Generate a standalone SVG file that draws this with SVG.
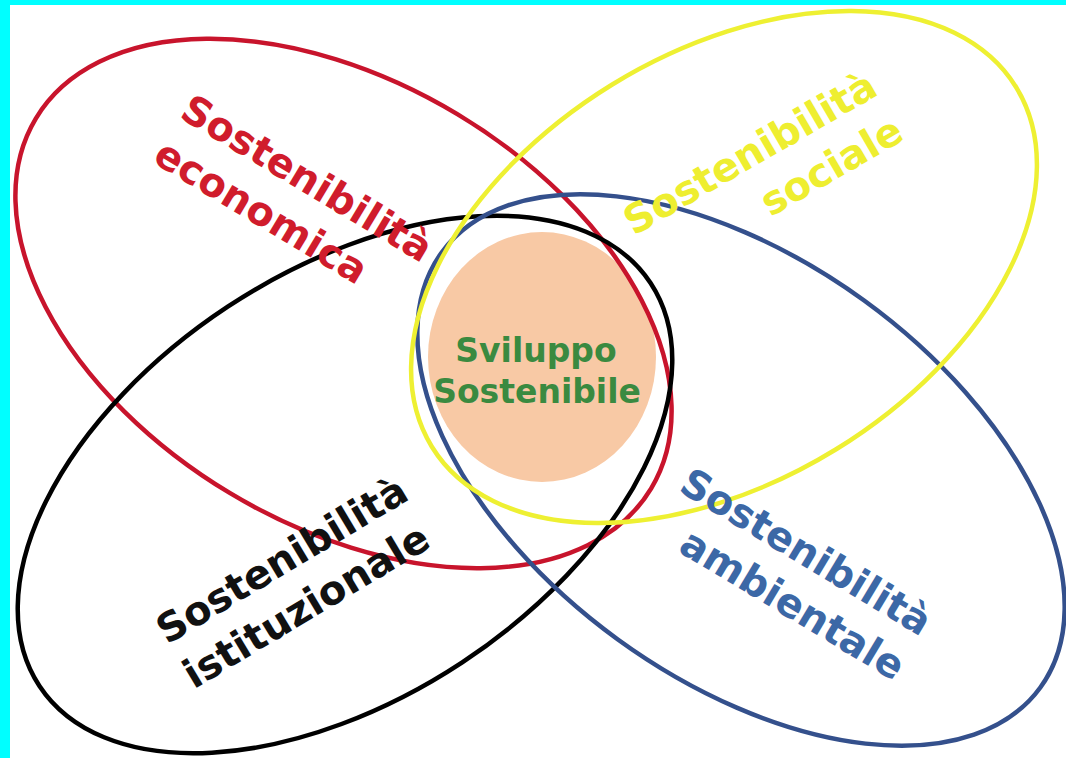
<svg xmlns="http://www.w3.org/2000/svg" width="1066" height="758" viewBox="0 0 1066 758">
  <style>
    .ring { fill: none; stroke-width: 4.5; }
    .lbl { font-family: "DejaVu Sans", "Verdana", sans-serif; font-weight: bold; font-size: 40px; }
    .core { font-family: "DejaVu Sans", "Verdana", sans-serif; font-weight: bold; font-size: 33px; fill: #3a8a40; text-anchor: middle; }
  </style>
  <rect x="0" y="0" width="1066" height="758" fill="#00ffff"/>
  <rect x="10" y="5" width="1056" height="753" fill="#ffffff"/>

  <g id="sviluppo-sostenibile">
    <ellipse cx="542" cy="357" rx="114" ry="125" fill="#f8c9a5"/>
    <text class="core" x="536" y="362">Sviluppo</text>
    <text class="core" x="537" y="403">Sostenibile</text>
  </g>

  <g id="connectors">
    <ellipse id="ring-economica" class="ring" cx="343.5" cy="303.5" rx="359" ry="221" transform="rotate(31 343.5 303.5)" stroke="#c8142c"/>
    <ellipse id="ring-istituzionale" class="ring" cx="345" cy="484.5" rx="366" ry="213" transform="rotate(-33.4 345 484.5)" stroke="#000000"/>
    <ellipse id="ring-ambientale" class="ring" cx="741" cy="470" rx="370" ry="209.5" transform="rotate(36 741 470)" stroke="#34508c" stroke-width="4"/>
    <ellipse id="ring-sociale" class="ring" cx="724" cy="267" rx="343" ry="214" transform="rotate(-31.6 724 267)" stroke="#eef032" stroke-width="5"/>
  </g>

  <g id="sostenibilita-economica" transform="translate(178,117) rotate(31)">
    <text class="lbl" x="0" y="0" fill="#d01c2c">Sostenibilità</text>
    <text class="lbl" x="0" y="52" fill="#d01c2c">economica</text>
  </g>

  <g id="sostenibilita-sociale" transform="translate(880,94) rotate(-30)">
    <text class="lbl" x="0" y="0" fill="#eeee30" text-anchor="end">Sostenibilità</text>
    <text class="lbl" x="0" y="52" fill="#eeee30" text-anchor="end">sociale</text>
  </g>

  <g id="sostenibilita-istituzionale" transform="translate(167,645) rotate(-31)">
    <text class="lbl" x="0" y="0" fill="#111111">Sostenibilità</text>
    <text class="lbl" x="0" y="52" fill="#111111">istituzionale</text>
  </g>

  <g id="sostenibilita-ambientale" transform="translate(921,637) rotate(31)">
    <text class="lbl" x="0" y="0" fill="#3c68a6" text-anchor="end">Sostenibilità</text>
    <text class="lbl" x="0" y="52" fill="#3c68a6" text-anchor="end">ambientale</text>
  </g>
</svg>
